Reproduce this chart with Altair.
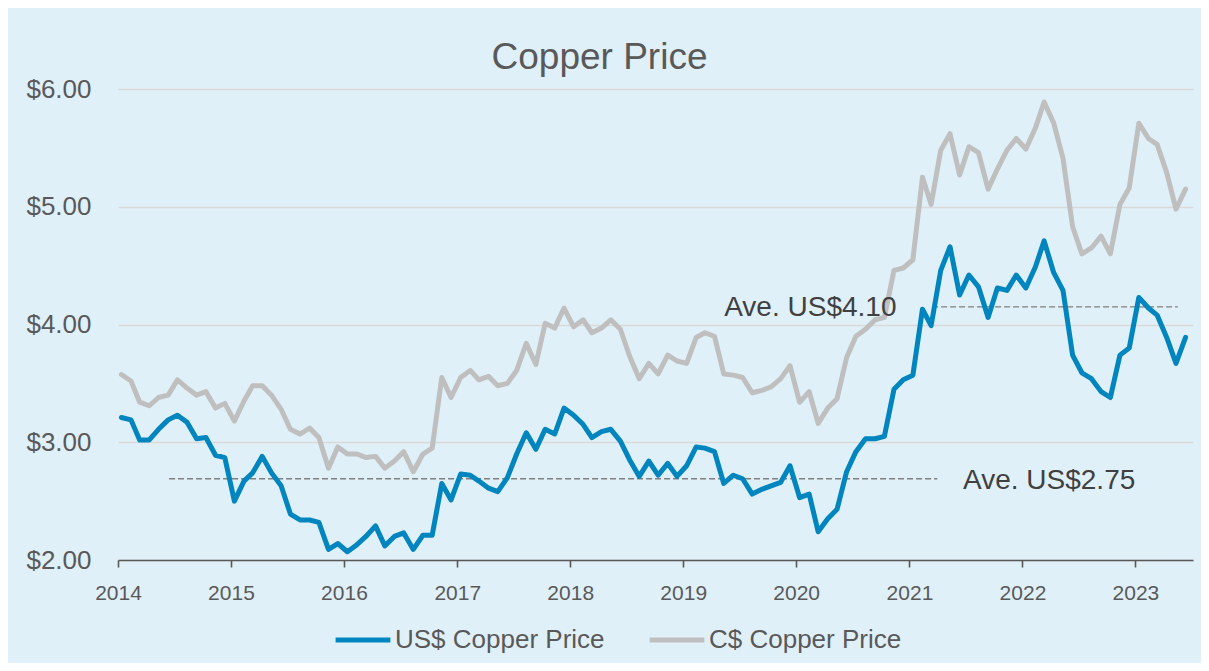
import altair as alt
import pandas as pd

# ---- data -------------------------------------------------------------
months = pd.date_range("2014-01-01", periods=114, freq="MS") + pd.Timedelta(days=11)

us_price = [
    3.21, 3.19, 3.02, 3.02, 3.11, 3.19, 3.23, 3.17, 3.03, 3.04, 2.89, 2.87,
    2.50, 2.67, 2.74, 2.88, 2.74, 2.63, 2.39, 2.34, 2.34, 2.32, 2.09, 2.14,
    2.07, 2.13, 2.20, 2.29, 2.12, 2.20, 2.23, 2.09, 2.21, 2.21, 2.65, 2.51,
    2.73, 2.72, 2.67, 2.61, 2.58, 2.70, 2.90, 3.08, 2.94, 3.11, 3.07, 3.29,
    3.23, 3.15, 3.04, 3.09, 3.11, 3.01, 2.85, 2.71, 2.84, 2.72, 2.82, 2.71,
    2.80, 2.96, 2.95, 2.92, 2.65, 2.72, 2.69, 2.56, 2.60, 2.63, 2.66, 2.80,
    2.53, 2.56, 2.24, 2.35, 2.43, 2.75, 2.92, 3.03, 3.03, 3.05, 3.45, 3.53,
    3.57, 4.13, 3.99, 4.46, 4.66, 4.25, 4.42, 4.32, 4.06, 4.31, 4.29, 4.42,
    4.31, 4.49, 4.71, 4.44, 4.29, 3.74, 3.59, 3.54, 3.43, 3.38, 3.74, 3.80,
    4.23, 4.14, 4.08, 3.89, 3.67, 3.89,
]

cad_price = [
    3.575, 3.52, 3.34, 3.31, 3.38, 3.40, 3.53, 3.46, 3.40, 3.43, 3.29, 3.33,
    3.18, 3.35, 3.48, 3.48, 3.40, 3.28, 3.11, 3.07, 3.12, 3.04, 2.78, 2.96,
    2.90, 2.90, 2.87, 2.88, 2.78, 2.84, 2.92, 2.75, 2.90, 2.95, 3.55, 3.38,
    3.55, 3.61, 3.53, 3.56, 3.48, 3.50, 3.61, 3.84, 3.66, 4.01, 3.97, 4.14,
    3.98, 4.04, 3.93, 3.97, 4.04, 3.96, 3.73, 3.54, 3.67, 3.58, 3.74, 3.69,
    3.67, 3.89, 3.93, 3.90, 3.58, 3.57, 3.55, 3.42, 3.44, 3.47, 3.54, 3.65,
    3.34, 3.43, 3.16, 3.29, 3.37, 3.72, 3.90, 3.96, 4.04, 4.06, 4.46, 4.48,
    4.55, 5.25, 5.02, 5.48, 5.62, 5.27, 5.51, 5.46, 5.15, 5.32, 5.48, 5.58,
    5.49, 5.67, 5.89, 5.71, 5.41, 4.83, 4.60, 4.65, 4.75, 4.60, 5.02, 5.16,
    5.71, 5.58, 5.53, 5.29, 4.98, 5.15,
]

series_names = ["US$ Copper Price", "C$ Copper Price"]
series_colors = ["#0085BF", "#BFBFBF"]

year_ticks = [f"{y}-01-01" for y in range(2014, 2024)]
y_ticks = [2, 3, 4, 5, 6]

avg_labels = ["Ave. US$2.75", "Ave. US$4.10"]
avg_levels = [2.69, 4.15]
avg_start = ["2014-06-15", "2021-03-15"]
avg_end = ["2021-04-01", "2023-05-18"]
label_dates = ["2021-06-23", "2020-11-20"]
label_values = [2.67, 4.14]

# ---- tables -----------------------------------------------------------
n = len(months)
lines_df = pd.DataFrame({
    "date": list(months) + list(months),
    "price": cad_price + us_price,
    "series": [series_names[1]] * n + [series_names[0]] * n,
})
avg_df = pd.DataFrame({
    "start": pd.to_datetime(avg_start),
    "end": pd.to_datetime(avg_end),
    "level": avg_levels,
})
lab_df = pd.DataFrame({
    "date": pd.to_datetime(label_dates),
    "value": label_values,
    "label": avg_labels,
})

FONT = "Liberation Sans"
TXT = "#595959"

x_scale = alt.Scale(domain=[alt.DateTime(year=2014, month=1, date=1),
                            alt.DateTime(year=2023, month=7, date=6)])
y_scale = alt.Scale(domain=[2, 6], nice=False, zero=False)

x_axis = alt.Axis(
    values=[alt.DateTime(year=int(s[:4]), month=1, date=1) for s in year_ticks],
    format="%Y", grid=False, domainColor=TXT, domainWidth=1.6,
    tickColor=TXT, tickWidth=1.6, tickSize=7, labelFontSize=21,
    labelColor=TXT, labelFont=FONT, labelPadding=15, title=None,
    labelFlush=False,
)
y_axis = alt.Axis(
    values=y_ticks, format="$.2f", domain=False, ticks=False,
    gridColor="#D9D9D9", gridWidth=1.5, labelFontSize=26, labelColor=TXT,
    labelFont=FONT, labelPadding=27, title=None,
)

lines = alt.Chart(lines_df).mark_line(
    strokeWidth=5, strokeJoin="round", strokeCap="round"
).encode(
    x=alt.X("date:T", scale=x_scale, axis=x_axis),
    y=alt.Y("price:Q", scale=y_scale, axis=y_axis),
    color=alt.Color(
        "series:N",
        scale=alt.Scale(domain=series_names, range=series_colors),
        legend=alt.Legend(
            orient="none", legendX=215, legendY=521, direction="horizontal",
            title=None, symbolType="stroke", symbolSize=3000,
            symbolStrokeWidth=5, labelFontSize=26, labelColor=TXT,
            labelFont=FONT, columnPadding=34, labelOffset=2, padding=0,
            labelLimit=500,
        ),
    ),
    detail="series:N",
)

rules = alt.Chart(avg_df).mark_rule(
    color="#7F7F7F", strokeWidth=1.3, strokeDash=[6, 3]
).encode(
    x=alt.X("start:T", scale=x_scale),
    x2="end:T",
    y=alt.Y("level:Q", scale=y_scale),
)

txt_left = alt.Chart(lab_df.iloc[[0]]).mark_text(
    align="left", baseline="middle", fontSize=28, color="#404040", font=FONT
).encode(x=alt.X("date:T", scale=x_scale), y=alt.Y("value:Q", scale=y_scale), text="label:N")

txt_right = alt.Chart(lab_df.iloc[[1]]).mark_text(
    align="right", baseline="middle", fontSize=28, color="#404040", font=FONT
).encode(x=alt.X("date:T", scale=x_scale), y=alt.Y("value:Q", scale=y_scale), text="label:N")

chart = alt.layer(rules, lines, txt_left, txt_right).properties(
    width=1075, height=471,
    autosize=alt.AutoSizeParams(type="none"),
    padding={"left": 110, "top": 81, "right": 8, "bottom": 103},
    title=alt.TitleParams(
        text="Copper Price", fontSize=37, color=TXT, font=FONT,
        fontWeight="normal", anchor="middle", dx=-56, offset=-1,
    ),
).configure(
    background="#E0F0F8",
).configure_view(stroke=None)

chart.save("out.html", embed_options={"renderer": "svg", "actions": False})
